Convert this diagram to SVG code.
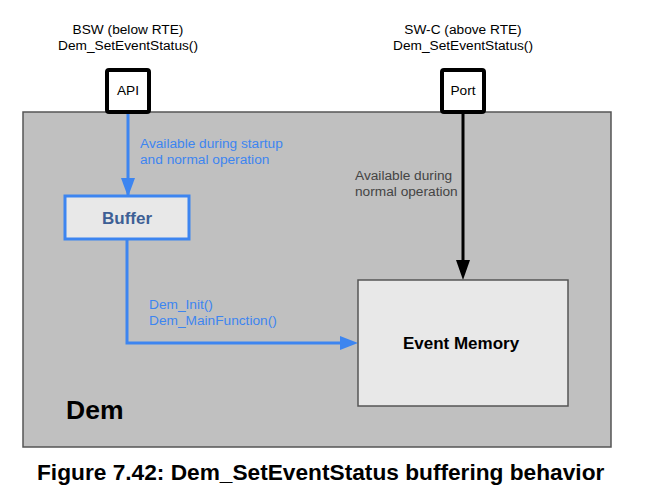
<svg xmlns="http://www.w3.org/2000/svg" width="656" height="498" viewBox="0 0 656 498">
<style>
text{font-family:"Liberation Sans",Arial,sans-serif}
.lbl{font-size:13.7px;fill:#000}
.blue{font-size:13.7px;fill:#3d85f0}
.gray{font-size:13.7px;fill:#444}
.port{fill:#fff;stroke:#000;stroke-width:4}
</style>
<rect width="656" height="498" fill="#fff"/>
<g id="dem">
<rect x="23" y="112" width="588" height="335" fill="#c0c0c0" stroke="#555" stroke-width="1.5"/>
<text x="66" y="419" font-size="26.5" font-weight="bold">Dem</text>
</g>
<g id="labels">
<text class="lbl" x="128" y="34" text-anchor="middle">BSW (below RTE)</text>
<text class="lbl" x="128" y="50" text-anchor="middle">Dem_SetEventStatus()</text>
<text class="lbl" x="463" y="34" text-anchor="middle">SW-C (above RTE)</text>
<text class="lbl" x="463" y="50" text-anchor="middle">Dem_SetEventStatus()</text>
</g>
<g id="connectors">
<path d="M128,113V197" stroke="#3d85f0" stroke-width="3" fill="none"/>
<path d="M121,178L128,197L135,178z" fill="#3d85f0"/>
<path d="M127,240V343H342" stroke="#3d85f0" stroke-width="3" fill="none"/>
<path d="M340,336L358,343L340,350z" fill="#3d85f0"/>
<path d="M463,113V262" stroke="#000" stroke-width="3" fill="none"/>
<path d="M456,260L463,280L470,260z" fill="#000"/>
<text class="blue" x="140" y="148">Available during startup</text>
<text class="blue" x="140" y="164">and normal operation</text>
<text class="blue" x="149" y="309">Dem_Init()</text>
<text class="blue" x="149" y="325">Dem_MainFunction()</text>
<text class="gray" x="355" y="180">Available during</text>
<text class="gray" x="355" y="196">normal operation</text>
</g>
<g id="api">
<rect class="port" x="107" y="70" width="42" height="42" rx="2"/>
<text class="lbl" x="128" y="95" text-anchor="middle">API</text>
</g>
<g id="port">
<rect class="port" x="442" y="70" width="42" height="42" rx="2"/>
<text class="lbl" x="463" y="95" text-anchor="middle">Port</text>
</g>
<g id="buffer">
<rect x="65" y="196" width="124" height="43" fill="#e8e8e8" stroke="#3d85f0" stroke-width="3"/>
<text x="127" y="224" text-anchor="middle" font-size="17" font-weight="bold" fill="#3d5f95">Buffer</text>
</g>
<g id="eventmemory">
<rect x="358" y="280" width="210" height="126" fill="#e8e8e8" stroke="#555" stroke-width="1.5"/>
<text x="461" y="349" text-anchor="middle" font-size="17" font-weight="bold">Event Memory</text>
</g>
<g id="caption">
<text x="37" y="480" font-size="22.7" font-weight="bold">Figure 7.42: Dem_SetEventStatus buffering behavior</text>
</g>
</svg>
